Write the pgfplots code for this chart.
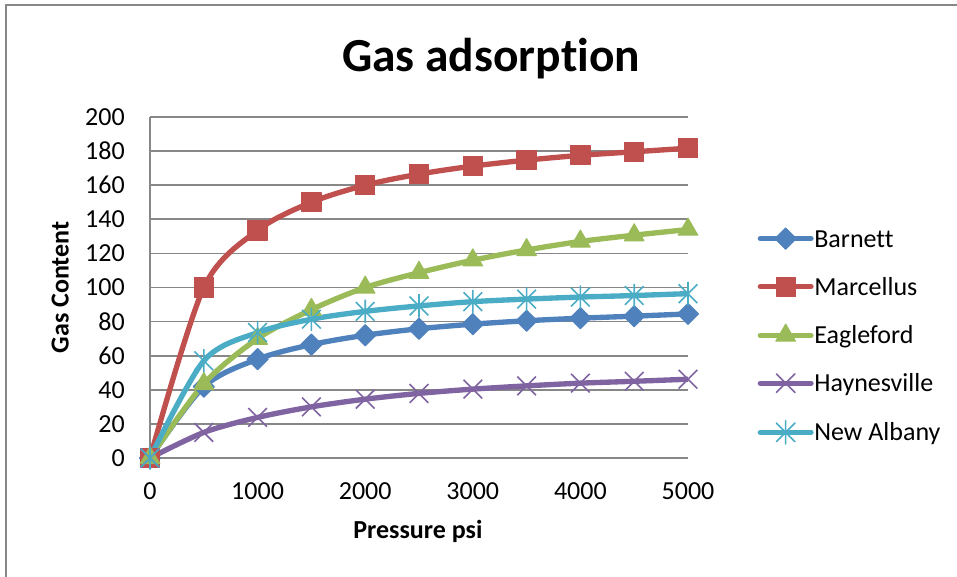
\documentclass[border=0pt]{standalone}
\usepackage{fontspec}
\setmainfont{Carlito}[Ligatures=NoCommon]
\usepackage{pgfplots}
\pgfplotsset{compat=1.18}
\definecolor{cB}{HTML}{4F81BD}
\definecolor{cR}{HTML}{C0504D}
\definecolor{cG}{HTML}{9BBB59}
\definecolor{cP}{HTML}{8064A2}
\definecolor{cC}{HTML}{4BACC6}
\definecolor{gridg}{HTML}{878787}
\pgfdeclareplotmark{exx}{%
  \pgfpathmoveto{\pgfqpoint{-\pgfplotmarksize}{-\pgfplotmarksize}}%
  \pgfpathlineto{\pgfqpoint{\pgfplotmarksize}{\pgfplotmarksize}}%
  \pgfpathmoveto{\pgfqpoint{-\pgfplotmarksize}{\pgfplotmarksize}}%
  \pgfpathlineto{\pgfqpoint{\pgfplotmarksize}{-\pgfplotmarksize}}%
  \pgfusepathqstroke}
\pgfdeclareplotmark{exstar}{%
  \pgfpathmoveto{\pgfqpoint{-\pgfplotmarksize}{-\pgfplotmarksize}}%
  \pgfpathlineto{\pgfqpoint{\pgfplotmarksize}{\pgfplotmarksize}}%
  \pgfpathmoveto{\pgfqpoint{-\pgfplotmarksize}{\pgfplotmarksize}}%
  \pgfpathlineto{\pgfqpoint{\pgfplotmarksize}{-\pgfplotmarksize}}%
  \pgfpathmoveto{\pgfqpoint{0pt}{-1.25\pgfplotmarksize}}%
  \pgfpathlineto{\pgfqpoint{0pt}{1.25\pgfplotmarksize}}%
  \pgfusepathqstroke}
\newcommand{\sfont}{\fontsize{19.5}{22}\selectfont}
\begin{document}
\begin{tikzpicture}
\useasboundingbox (0,0) rectangle (717.75pt,432pt);
\draw[gridg, line width=1.5pt] (4.5pt,-20pt) -- (4.5pt,428.25pt) -- (740pt,428.25pt);
\begin{axis}[
  at={(112.5pt,88.5pt)}, anchor=south west,
  scale only axis, width=403.5pt, height=255.75pt,
  xmin=0, xmax=5000, ymin=0, ymax=200,
  xtick={0,1000,...,5000}, ytick={0,20,...,200},
  axis lines*=left,
  axis line style={gridg, line width=1.3pt},
  ymajorgrids, grid style={gridg, line width=1.3pt},
  major tick length=0pt,
  /pgf/number format/assume math mode=true,
  /pgf/number format/1000 sep={},
  tick label style={font=\sfont},
  xticklabel style={anchor=north, inner sep=0pt, yshift=-18.5pt},
  yticklabel style={anchor=east, inner sep=0pt, xshift=-18.75pt},
  clip=false,
  title={Gas adsorption},
  every axis title shift=0pt,
  title style={font=\fontsize{35.6}{40}\selectfont\bfseries, at={(axis description cs:0.634,1.132)}, anchor=base, inner sep=0pt},
  xlabel={Pressure psi},
  xlabel style={font=\sfont\bfseries, at={(axis description cs:0.498,-0.214)}, anchor=center, inner sep=0pt},
  ylabel={Gas Content},
  ylabel style={font=\sfont\bfseries, at={(axis description cs:-0.167,0.5)}, anchor=center, inner sep=0pt},
  every axis plot/.append style={line width=4pt, smooth, tension=0.5, line join=round},
  legend style={draw=none, fill=none, font=\sfont, at={(axis description cs:1.1295,0.3577)}, anchor=west,
    inner sep=0pt, outer sep=0pt, row sep=20.4pt, column sep=0.5pt,
    nodes={inner sep=0pt, text height=14pt, text depth=1.4pt}},
  legend cell align=left,
  legend image code/.code={\draw[mark repeat=2,mark phase=2,line cap=round,#1] plot coordinates {(0pt,0pt) (19pt,0pt) (38pt,0pt)};},
]
\addplot[cB, mark=square*, mark size=5.6pt, mark options={solid, rotate=45, fill=cB, line width=0.8pt}] coordinates {
(0,0) (500,41.8) (1000,58) (1500,66.5) (2000,72) (2500,75.8) (3000,78.5) (3500,80.5) (4000,82) (4500,83.2) (5000,84.5)};
\addlegendentry{Barnett}
\addplot[cR, mark=square*, mark size=7.2pt, mark options={solid, fill=cR, line width=0.8pt}] coordinates {
(0,0) (500,100) (1000,133.5) (1500,150) (2000,160) (2500,166.5) (3000,171.2) (3500,174.7) (4000,177.5) (4500,179.6) (5000,181.7)};
\addlegendentry{Marcellus}
\addplot[cG, mark=triangle*, mark size=8.5pt, mark options={solid, fill=cG, line width=0.8pt}] coordinates {
(0,0) (500,43.5) (1000,70) (1500,87) (2000,100) (2500,108.7) (3000,116) (3500,122) (4000,127) (4500,130.7) (5000,134)};
\addlegendentry{Eagleford}
\addplot[cP, mark=exx, mark size=7pt, mark options={solid, line width=1.2pt}] coordinates {
(0,0) (500,15) (1000,23.8) (1500,30) (2000,34.5) (2500,37.9) (3000,40.4) (3500,42.3) (4000,43.9) (4500,45) (5000,46.2)};
\addlegendentry{Haynesville}
\addplot[cC, mark=exstar, mark size=7pt, mark options={solid, line width=1.2pt}] coordinates {
(0,0) (500,57) (1000,73.6) (1500,81.4) (2000,86) (2500,89.2) (3000,91.7) (3500,93.2) (4000,94.4) (4500,95.3) (5000,96.4)};
\addlegendentry{New Albany}
\end{axis}
\end{tikzpicture}
\end{document}
